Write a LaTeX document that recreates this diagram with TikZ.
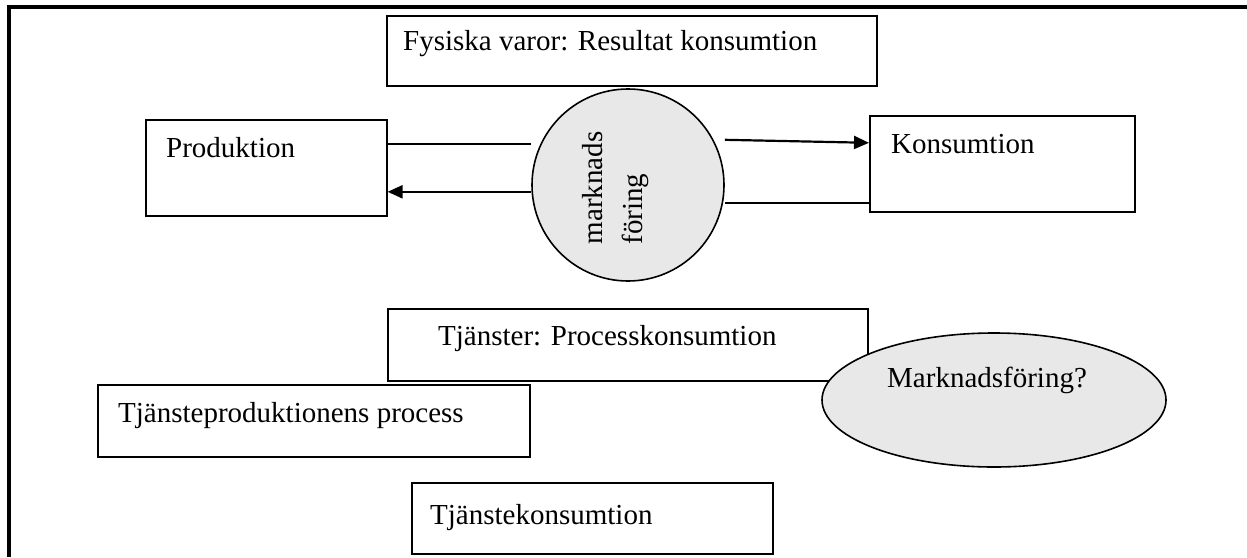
\documentclass[tikz,border=0pt]{standalone}
\usepackage{fontspec}
\setmainfont{Liberation Serif}
\usetikzlibrary{arrows.meta,shapes.geometric,calc}
\definecolor{fillgray}{HTML}{E8E8E8}
\begin{document}
\begin{tikzpicture}[x=1pt,y=-1pt,
  box/.style={draw, line width=1.6pt, inner sep=0pt, anchor=north west},
  lbl/.style={inner sep=0pt, anchor=base west, font=\fontsize{29}{40}\selectfont},
  arr/.style={line width=2.2pt, -{Triangle[length=15pt,width=13pt]}},
  ln/.style={line width=1.5pt},
  framel/.style={line width=3.5pt},
  blob/.style={draw, fill=fillgray, line width=1.6pt, inner sep=0pt}]
\useasboundingbox (0,0) rectangle (1247,557);
\draw[framel] (9,557) -- (9,7) -- (1247,7);

% boxes
\node[box, minimum width=490pt, minimum height=70pt] (fys) at (386,15) {};
\node[box, minimum width=241pt, minimum height=96pt] (prod) at (145,119) {};
\node[box, minimum width=265pt, minimum height=96pt] (kons) at (869,115) {};
\node[box, minimum width=480pt, minimum height=72pt] (tj) at (387,308) {};
\node[box, minimum width=432pt, minimum height=72pt] (tjp) at (97,384) {};
\node[box, minimum width=361pt, minimum height=71pt] (tjk) at (411,482) {};

% labels
\node[lbl] (fyst) at ([xshift=17pt,yshift=-35pt]fys.north west) {Fysiska varor: Resultat konsumtion};
\node[lbl] (prodt) at ([xshift=21pt,yshift=-38pt]prod.north west) {Produktion};
\node[lbl] (konst) at ([xshift=22pt,yshift=-38pt]kons.north west) {Konsumtion};
\node[lbl] (tjt) at ([xshift=51pt,yshift=-37pt]tj.north west) {Tjänster: Processkonsumtion};
\node[lbl] (tjpt) at ([xshift=21pt,yshift=-38pt]tjp.north west) {Tjänsteproduktionens process};
\node[lbl] (tjkt) at ([xshift=19pt,yshift=-42pt]tjk.north west) {Tjänstekonsumtion};

% circle
\node[blob, circle, minimum size=192pt] (circ) at (628,185) {};
\node[rotate=90, align=left, inner sep=0pt, font=\fontsize{29}{40}\selectfont] (circt) at (616,188) {marknads\\föring};

% ellipse
\node[blob, ellipse, minimum width=344pt, minimum height=134pt] (ell) at (994,400) {};
\node[lbl] (ellt) at ([xshift=-107pt,yshift=13pt]ell.center) {Marknadsföring?};

% connectors
\coordinate (pt) at ([yshift=24pt]prod.east);
\coordinate (pb) at ([yshift=-24pt]prod.east);
\draw[ln] (pt) -- (pt -| circ.west);
\draw[arr] (pb -| circ.west) -- (pb);
\coordinate (kt) at ([yshift=21pt]kons.west);
\coordinate (kb) at ([yshift=-39pt]kons.west);
\draw[arr] ($(kt -| circ.east)+(0,-3)$) -- (kt);
\draw[ln] (kb) -- (kb -| circ.east);
\end{tikzpicture}
\end{document}
